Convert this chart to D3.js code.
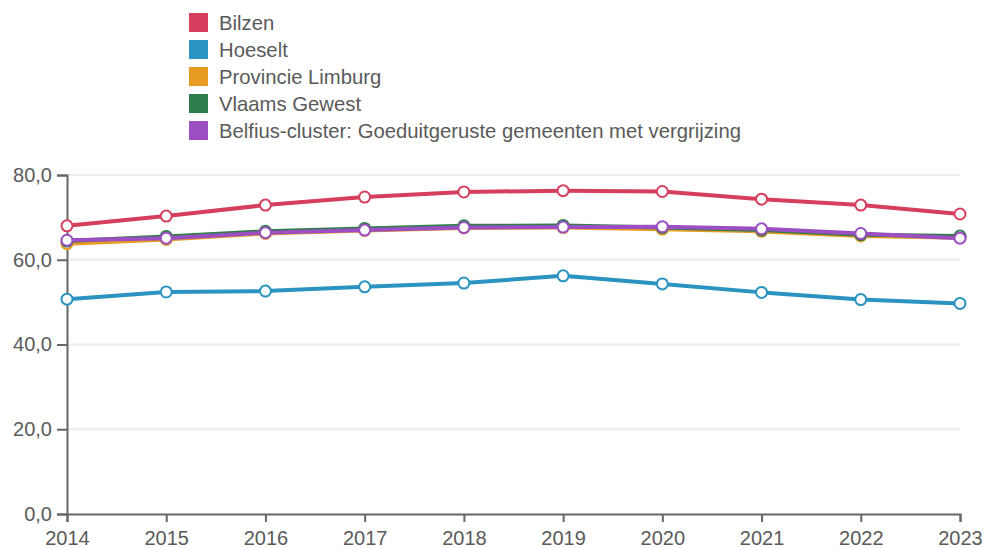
<!DOCTYPE html>
<html lang="nl">
<head>
<meta charset="utf-8">
<script src="https://d3js.org/d3.v7.min.js"></script>
<style>
  body { margin: 0; background: #fff; }
  svg { font-family: "Liberation Sans", Arial, sans-serif; }
  .legend text { fill: #5a5a5a; font-size: 20.3px; }
  .axis text { fill: #5a5a5a; font-size: 20px; }
  .grid line { stroke: #ececec; stroke-width: 2px; }
  .line { fill: none; stroke-width: 4px; stroke-linejoin: round; }
</style>
</head>
<body>
<svg width="986" height="548"></svg>
<script>
var years = [2014, 2015, 2016, 2017, 2018, 2019, 2020, 2021, 2022, 2023];
var seriesNames = ["Bilzen", "Hoeselt", "Provincie Limburg", "Vlaams Gewest",
  "Belfius-cluster: Goeduitgeruste gemeenten met vergrijzing"];
var colors = ["#d63e5e", "#2b93c0", "#e89b22", "#2e7d4a", "#9b4fc2"];
var bilzen   = [68.0, 70.3, 72.9, 74.8, 76.0, 76.3, 76.1, 74.3, 72.9, 70.8];
var hoeselt  = [50.7, 52.4, 52.6, 53.6, 54.5, 56.2, 54.3, 52.3, 50.6, 49.7];
var limburg  = [63.8, 64.8, 66.2, 66.9, 67.5, 67.6, 67.2, 66.7, 65.6, 65.2];
var vlaanderen = [64.4, 65.5, 66.7, 67.4, 68.0, 68.1, 67.6, 67.0, 65.9, 65.6];
var cluster  = [64.6, 65.1, 66.4, 67.0, 67.6, 67.7, 67.8, 67.3, 66.2, 65.1];
var yTicks = [0, 20, 40, 60, 80];

var allValues = [bilzen, hoeselt, limburg, vlaanderen, cluster];

var svg = d3.select("svg");
var x = d3.scaleLinear().domain([2014, 2023]).range([67, 960]);
var y = d3.scaleLinear().domain([0, 80]).range([514, 175]);
var fmt = function(d) { return d3.format(".1f")(d).replace(".", ","); };

// gridlines
svg.append("g").attr("class", "grid")
  .selectAll("line").data(yTicks.filter(function(d) { return d > 0; }))
  .enter().append("line")
  .attr("x1", 67).attr("x2", 960)
  .attr("y1", function(d) { return y(d); })
  .attr("y2", function(d) { return y(d); });

// axes
svg.append("g").attr("class", "axis")
  .attr("transform", "translate(67,0)")
  .call(d3.axisLeft(y).tickValues(yTicks).tickFormat(fmt).tickSize(10).tickPadding(5));
svg.append("g").attr("class", "axis")
  .attr("transform", "translate(0,514)")
  .call(d3.axisBottom(x).tickValues(years).tickFormat(d3.format("d")).tickSize(8).tickPadding(9));
svg.selectAll(".axis path, .axis line").attr("stroke", "#666").attr("stroke-width", 2);

// lines
var line = d3.line()
  .x(function(d, i) { return x(years[i]); })
  .y(function(d) { return y(d); });

allValues.forEach(function(vals, s) {
  var g = svg.append("g");
  g.append("path").datum(vals).attr("class", "line")
    .attr("stroke", colors[s]).attr("d", line);
  g.selectAll("circle").data(vals).enter().append("circle")
    .attr("cx", function(d, i) { return x(years[i]); })
    .attr("cy", function(d) { return y(d); })
    .attr("r", 5.5)
    .attr("fill", "#fff")
    .attr("stroke", colors[s])
    .attr("stroke-width", 2);
});

// legend
var legend = svg.append("g").attr("class", "legend")
  .attr("transform", "translate(189,13)");
var item = legend.selectAll("g").data(seriesNames).enter().append("g")
  .attr("transform", function(d, i) { return "translate(0," + (i * 27) + ")"; });
item.append("rect").attr("width", 19).attr("height", 19)
  .attr("fill", function(d, i) { return colors[i]; });
item.append("text").attr("x", 30).attr("y", 10).attr("dy", "0.35em")
  .text(function(d) { return d; });
</script>
</body>
</html>
